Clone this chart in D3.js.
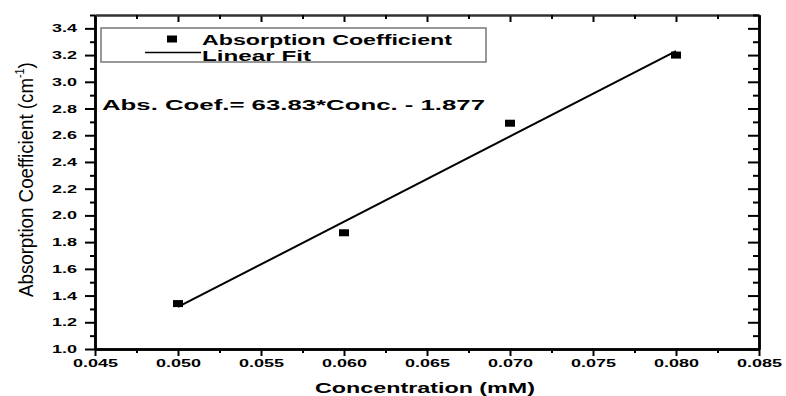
<!DOCTYPE html>
<html>
<head>
<meta charset="utf-8">
<script src="https://cdn.jsdelivr.net/npm/d3@7"></script>
<style>
  body { margin: 0; background: #fff; }
  svg { display: block; font-family: "Liberation Sans", Arial, sans-serif; }
</style>
</head>
<body>
<svg id="chart" width="786" height="396"></svg>
<script>
// data
const concentration = [0.050, 0.060, 0.070, 0.080];
const absCoef = [1.34, 1.87, 2.69, 3.20];
const fitSlope = 63.83;
const fitIntercept = -1.877;
const xTicks = [0.045, 0.050, 0.055, 0.060, 0.065, 0.070, 0.075, 0.080, 0.085];
const yTicks = [1.0, 1.2, 1.4, 1.6, 1.8, 2.0, 2.2, 2.4, 2.6, 2.8, 3.0, 3.2, 3.4];

const svg = d3.select("#chart");

const xScale = d3.scaleLinear().domain([0.045, 0.085]).range([95, 759]);
const yScale = d3.scaleLinear().domain([1.0, 3.5]).range([349, 15]);

// minor ticks sit halfway between the majors
const mid = arr => arr.slice(1).map((d, i) => (d + arr[i]) / 2);
const xMinor = mid(xTicks);
const yMinor = mid(yTicks).concat([3.5]);

const [x0, x1] = xScale.range();
const [y0, y1] = yScale.range();

// bottom axis
const bottomAxis = svg.append("g").attr("transform", `translate(0,${y0})`);
bottomAxis.call(d3.axisBottom(xScale).tickValues(xTicks).tickSize(7).tickSizeOuter(0).tickPadding(3)
  .tickFormat(d3.format(".3f")));
bottomAxis.append("g").call(d3.axisBottom(xScale).tickValues(xMinor).tickSize(4).tickSizeOuter(0).tickFormat(""));
bottomAxis.selectAll("text")
  .attr("font-size", 11).attr("font-weight", "bold").attr("fill", "#000")
  .attr("textLength", 45).attr("lengthAdjust", "spacingAndGlyphs");

// left axis
const leftAxis = svg.append("g").attr("transform", `translate(${x0},0)`);
leftAxis.call(d3.axisLeft(yScale).tickValues(yTicks).tickSize(10).tickSizeOuter(0).tickPadding(8)
  .tickFormat(d3.format(".1f")));
leftAxis.append("g").call(d3.axisLeft(yScale).tickValues(yMinor).tickSize(5).tickSizeOuter(0).tickFormat(""));
leftAxis.selectAll("text")
  .attr("font-size", 11).attr("font-weight", "bold").attr("fill", "#000")
  .attr("textLength", 25).attr("lengthAdjust", "spacingAndGlyphs");

// top and right axes, ticks inside
const topAxis = svg.append("g").attr("transform", `translate(0,${y1})`);
topAxis.call(d3.axisBottom(xScale).tickValues(xTicks).tickSize(7).tickSizeOuter(0).tickFormat(""));
topAxis.append("g").call(d3.axisBottom(xScale).tickValues(xMinor).tickSize(4).tickSizeOuter(0).tickFormat(""));

const rightAxis = svg.append("g").attr("transform", `translate(${x1},0)`);
rightAxis.call(d3.axisLeft(yScale).tickValues(yTicks).tickSize(11).tickSizeOuter(0).tickFormat(""));
rightAxis.append("g").call(d3.axisLeft(yScale).tickValues(yMinor).tickSize(6).tickSizeOuter(0).tickFormat(""));

svg.selectAll(".domain").attr("stroke", "#000").attr("stroke-width", 2.5);
svg.selectAll(".tick line").attr("stroke", "#000").attr("stroke-width", 2);
topAxis.selectAll(".domain").attr("stroke", "#333").attr("stroke-width", 2);

// fit line
const fitX = [d3.min(concentration), d3.max(concentration)];
svg.append("path")
  .attr("d", d3.line().x(d => xScale(d)).y(d => yScale(fitSlope * d + fitIntercept))(fitX))
  .attr("fill", "none").attr("stroke", "#000").attr("stroke-width", 2);

// data markers
svg.selectAll(".pt")
  .data(concentration.map((c, i) => [c, absCoef[i]]))
  .join("rect")
    .attr("class", "pt")
    .attr("x", d => xScale(d[0]) - 5)
    .attr("y", d => yScale(d[1]) - 3.5)
    .attr("width", 10).attr("height", 7)
    .attr("fill", "#000");

// legend
const legend = svg.append("g");
legend.append("rect")
  .attr("x", 101).attr("y", 28).attr("width", 385).attr("height", 34)
  .attr("fill", "#fff").attr("stroke", "#777").attr("stroke-width", 1.5);
legend.append("rect").attr("x", 167).attr("y", 35.5).attr("width", 10).attr("height", 7).attr("fill", "#000");
legend.append("text").attr("x", 202).attr("y", 44.5)
  .attr("font-size", 14).attr("font-weight", "bold")
  .attr("textLength", 250).attr("lengthAdjust", "spacingAndGlyphs")
  .text("Absorption Coefficient");
legend.append("line").attr("x1", 145).attr("x2", 201).attr("y1", 52.5).attr("y2", 52.5)
  .attr("stroke", "#000").attr("stroke-width", 1.5);
legend.append("text").attr("x", 202).attr("y", 60.5)
  .attr("font-size", 14).attr("font-weight", "bold")
  .attr("textLength", 109).attr("lengthAdjust", "spacingAndGlyphs")
  .text("Linear Fit");

// equation
svg.append("text").attr("x", 102).attr("y", 110)
  .attr("font-size", 15.5).attr("font-weight", "bold")
  .attr("textLength", 383).attr("lengthAdjust", "spacingAndGlyphs")
  .text("Abs. Coef.= 63.83*Conc. - 1.877");

// x title
svg.append("text").attr("x", 315).attr("y", 393)
  .attr("font-size", 15).attr("font-weight", "bold")
  .attr("textLength", 220).attr("lengthAdjust", "spacingAndGlyphs")
  .text("Concentration (mM)");

// y title, squeezed along its length
const yTitleG = svg.append("g");
const yTitle = yTitleG.append("text").attr("font-size", 21).attr("text-anchor", "start");
yTitle.append("tspan").text("Absorption Coefficient (cm");
yTitle.append("tspan").attr("font-size", 12).attr("dy", -9).text("-1");
yTitle.append("tspan").attr("dy", 9).text(")");
const natural = yTitle.node().getComputedTextLength();
yTitleG.attr("transform", `translate(33,297) rotate(-90) scale(${235 / natural},1)`);
</script>
</body>
</html>
